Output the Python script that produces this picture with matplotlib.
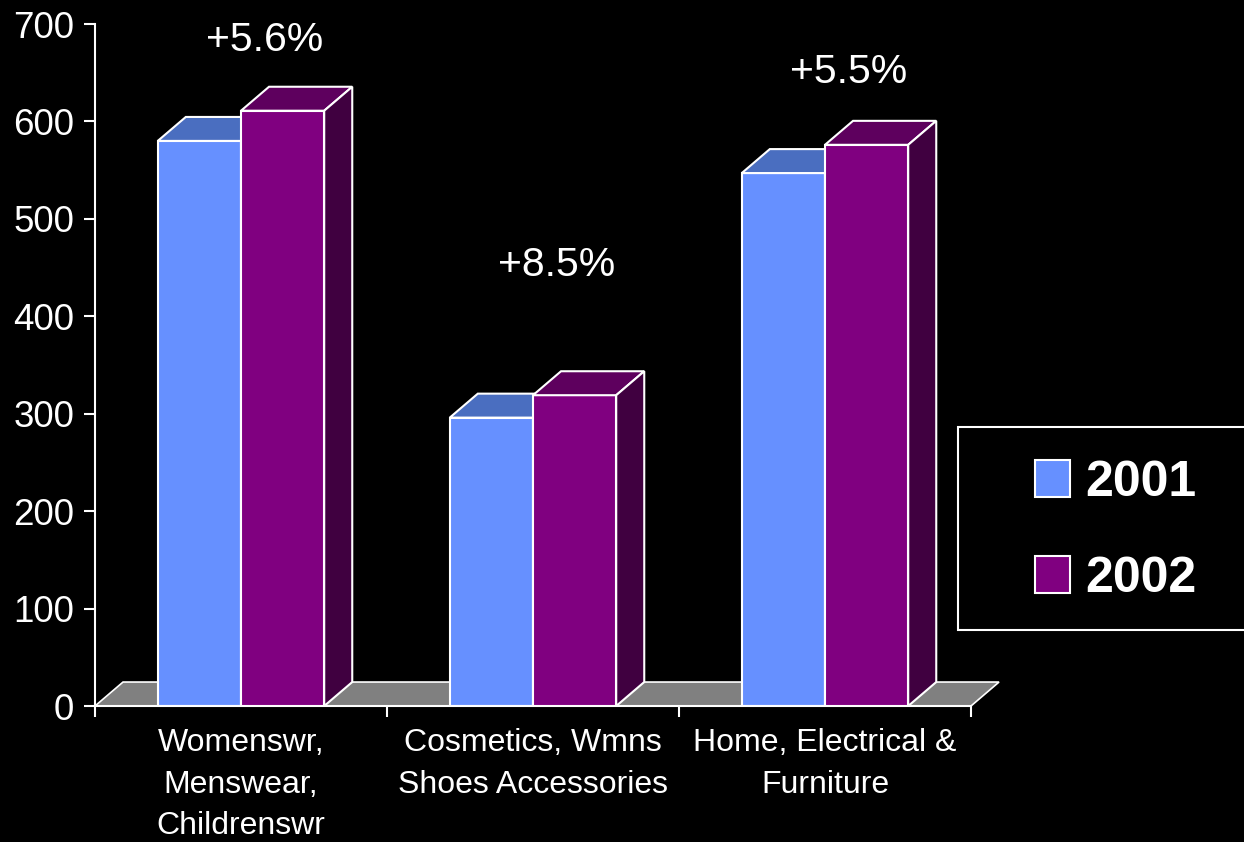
import matplotlib
matplotlib.use('Agg')
from matplotlib import pyplot as plt
from matplotlib.patches import Polygon, Rectangle
import numpy as np

plt.rcParams['font.family'] = ['Liberation Sans', 'DejaVu Sans']

# ----- data -----
categories = ['Womenswr,\nMenswear,\nChildrenswr',
              'Cosmetics, Wmns\nShoes Accessories',
              'Home, Electrical &\nFurniture']
sales_2001 = [580, 296, 547]
sales_2002 = [611, 319, 576]
growth_labels = ['+5.6%', '+8.5%', '+5.5%']
growth_label_y = [684, 453, 651]
years = ['2001', '2002']

# colours (front, top, side)
c2001 = ('#6690FF', '#4A6EC0', '#3A5090')
c2002 = ('#800080', '#5E005E', '#400040')
floor_col = '#808080'

W, H = 1244, 842
fig = plt.figure(figsize=(W / 100, H / 100), dpi=100, facecolor='black')
ax = fig.add_axes([95 / W, 136 / H, 876 / W, 682 / H])
ax.set_facecolor('black')

x = np.arange(len(categories))
bw = 0.285
dx, dy = 0.096, 24.6   # fake depth of the 3d look

ax.set_xlim(-0.5, len(categories) - 0.5)
ax.set_ylim(0, 700)

# floor
x0, x1 = -0.5, len(categories) - 0.5
ax.add_patch(Polygon([(x0, 0), (x1, 0), (x1 + dx, dy), (x0 + dx, dy)],
                     closed=True, facecolor=floor_col, edgecolor='white',
                     linewidth=1.2, zorder=1, clip_on=False))


def bars3d(xs, vals, cols, z):
    bars = ax.bar(xs, vals, width=bw, align='edge', color=cols[0],
                  edgecolor='white', linewidth=1.5, zorder=z)
    for b in bars:
        l, r, t = b.get_x(), b.get_x() + b.get_width(), b.get_height()
        top = [(l, t), (r, t), (r + dx, t + dy), (l + dx, t + dy)]
        side = [(r, 0), (r + dx, dy), (r + dx, t + dy), (r, t)]
        ax.add_patch(Polygon(top, closed=True, facecolor=cols[1], edgecolor='white',
                             linewidth=1.5, zorder=z, clip_on=False))
        ax.add_patch(Polygon(side, closed=True, facecolor=cols[2], edgecolor='white',
                             linewidth=1.5, zorder=z, clip_on=False))
    return bars


b1 = bars3d(x - bw, sales_2001, c2001, 2)
b2 = bars3d(x, sales_2002, c2002, 3)

# growth labels
for xi, lab, yy in zip(x, growth_labels, growth_label_y):
    ax.text(xi + 0.08, yy, lab, color='white', fontsize=29.5,
            ha='center', va='center', zorder=5, clip_on=False)

# axes styling
for s in ['top', 'right']:
    ax.spines[s].set_visible(False)
ax.spines['left'].set_color('white')
ax.spines['bottom'].set_color('white')
ax.spines['left'].set_linewidth(1.5)
ax.spines['bottom'].set_linewidth(1.5)
ax.spines['left'].set_zorder(6)

ax.set_yticks(np.arange(0, 701, 100))
ax.tick_params(axis='y', colors='white', labelsize=26.5, length=8, width=1.5, pad=7)

ax.set_xticks(x)
ax.set_xticklabels(categories, linespacing=1.5)
ax.set_xticks(np.arange(-0.5, len(categories), 1), minor=True)
ax.tick_params(axis='x', which='major', length=0, colors='white', labelsize=23, pad=16)
ax.tick_params(axis='x', which='minor', length=8, width=1.5, color='white')

# legend box sticks out past the right edge
fig.add_artist(Rectangle((958 / W, 1 - 630 / H), 300 / W, 203 / H,
                         transform=fig.transFigure, facecolor='black',
                         edgecolor='white', linewidth=1.5, zorder=4))
leg = fig.legend([b1[0], b2[0]], years, loc='center left',
                 bbox_to_anchor=(1035 / W, 1 - 531 / H), frameon=False,
                 borderpad=0, borderaxespad=0, handlelength=0.7, handleheight=0.75,
                 handletextpad=0.3, labelspacing=1.0,
                 prop={'size': 36, 'weight': 'bold'})
for t in leg.get_texts():
    t.set_color('white')
leg.set_zorder(5)

fig.savefig('out.png', dpi=100, facecolor='black')
